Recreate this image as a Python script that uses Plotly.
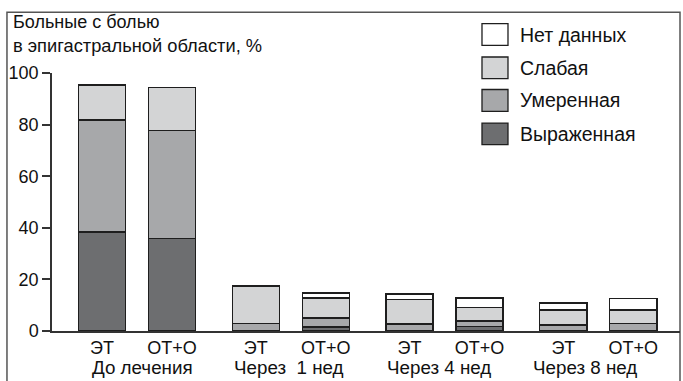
import plotly.graph_objects as go

groups = ["До лечения", "Через  1 нед", "Через 4 нед", "Через 8 нед"]
arms = ["ЭТ", "ОТ+О"]

# values per bar, order: (group0 ЭТ, group0 ОТ+О, group1 ЭТ, ...)
vyrazh = [38.4, 35.9, 0.0, 1.5, 0.0, 1.7, 0.0, 0.0]
umeren = [43.4, 41.9, 2.8, 3.5, 2.7, 2.2, 2.3, 2.8]
slabaya = [13.5, 16.5, 14.6, 7.8, 9.6, 5.1, 5.8, 5.3]
net_dannyh = [0.0, 0.0, 0.0, 1.9, 2.0, 3.8, 2.8, 4.4]

series_names = ["Выраженная", "Умеренная", "Слабая", "Нет данных"]
series_vals = [vyrazh, umeren, slabaya, net_dannyh]
series_colors = ["#6d6e70", "#a7a8aa", "#d3d4d5", "#ffffff"]

y_ticks = [0, 20, 40, 60, 80, 100]

FONT = "Liberation Sans, Arial, sans-serif"
OFF = 0.2276
# bar positions derived from group index and arm offset
xpos = []
xlab = []
for gi, g in enumerate(groups):
    for ai, a in enumerate(arms):
        xpos.append(gi + (-OFF if ai == 0 else OFF))
        xlab.append(a)

fig = go.Figure()
for name, vals, col in zip(series_names, series_vals, series_colors):
    fig.add_trace(go.Bar(
        x=xpos, y=vals, name=name, width=0.306,
        marker=dict(color=col, line=dict(color="#1e1e1e", width=1.3)),
        showlegend=False,
    ))

fig.update_layout(
    width=683, height=381,
    margin=dict(l=52, r=3, t=73, b=50),
    barmode="stack",
    plot_bgcolor="white", paper_bgcolor="white",
    font=dict(family=FONT, size=18, color="#111"),
    xaxis=dict(
        range=[-0.553, 3.531], tickvals=xpos, ticktext=xlab,
        showgrid=False, zeroline=False, showline=True, automargin=False,
        linecolor="#333", linewidth=1.5, ticks="", ticklen=0,
        tickfont=dict(size=18),
    ),
    yaxis=dict(
        range=[0, 100], tickvals=y_ticks, showgrid=False, zeroline=False,
        showline=True, linecolor="#333", linewidth=1.5, automargin=False,
        ticks="outside", ticklen=8, tickwidth=1.5, tickcolor="#333",
        tickfont=dict(size=18),
    ),
)

# group labels (slight horizontal nudges as in the original)
label_nudge = [5, -2, -6, -13]
for gi, g in enumerate(groups):
    fig.add_annotation(x=gi, y=-0.143, xref="x", yref="paper", text=g,
                       showarrow=False, yanchor="middle", xanchor="center",
                       xshift=label_nudge[gi], font=dict(size=18.8))

# title (two lines)
fig.add_annotation(x=-0.0653, y=(331 - 22) / 258.3, xref="paper", yref="paper",
                   text="Больные с болью",
                   showarrow=False, xanchor="left", yanchor="middle",
                   font=dict(size=18))
fig.add_annotation(x=-0.0653, y=(331 - 45) / 258.3, xref="paper", yref="paper",
                   text="в эпигастральной области, %",
                   showarrow=False, xanchor="left", yanchor="middle",
                   font=dict(size=18.3))

# frame
fig.add_shape(type="rect", xref="paper", yref="paper",
              x0=-0.0717, x1=1.0, y0=-0.25, y1=1.235,
              line=dict(color="#555", width=1.5), layer="below")

# manual legend
leg_rows = [(1.191, 1.107), (1.062, 0.978), (0.936, 0.851), (0.806, 0.722)]
for (y1, y0), name, col in zip(leg_rows, series_names[::-1], series_colors[::-1]):
    fig.add_shape(type="rect", xref="paper", yref="paper",
                  x0=0.6847, x1=0.7261, y0=y0, y1=y1,
                  fillcolor=col, line=dict(color="#1e1e1e", width=1.3))
    fig.add_annotation(x=0.742, y=(y0 + y1) / 2, xref="paper", yref="paper",
                       text=name, showarrow=False, xanchor="left", yanchor="middle",
                       font=dict(size=19.5))

fig.write_html("out.html", config={"displayModeBar": False},
               post_script="document.body.style.margin='0';")
